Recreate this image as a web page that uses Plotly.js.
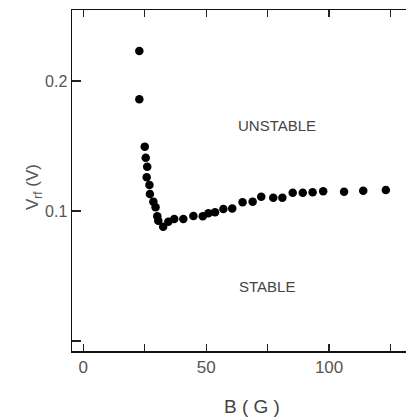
<!DOCTYPE html>
<html>
<head>
<meta charset="utf-8">
<script src="https://cdn.plot.ly/plotly-3.0.1.min.js"></script>
<style>html,body{margin:0;padding:0;background:#fff;}#chart{width:406px;height:418px;}</style>
</head>
<body>
<div id="chart"></div>
<script>
const B = [22.8, 22.8, 25.0, 25.4, 26.0, 25.8, 26.9, 27.1, 28.5, 29.4, 30.1, 30.5, 32.5, 34.6, 37.0, 40.7, 44.8, 48.6, 50.9, 53.6, 57.0, 60.6, 64.8, 68.9, 72.4, 77.3, 81.0, 85.2, 89.3, 93.3, 97.6, 106.1, 113.9, 123.1];
const Vrf = [0.223, 0.186, 0.1495, 0.141, 0.134, 0.126, 0.120, 0.113, 0.1072, 0.1028, 0.096, 0.0925, 0.0879, 0.0918, 0.0938, 0.0938, 0.0961, 0.096, 0.0982, 0.099, 0.1015, 0.102, 0.1067, 0.1072, 0.111, 0.1102, 0.1102, 0.114, 0.114, 0.1144, 0.1152, 0.1148, 0.1156, 0.1162];
const xTickVals = [0, 25, 50, 75, 100, 125];
const xTickText = ['0', '', '50', '', '100', ''];
const yTickVals = [0, 0.1, 0.2];
const yTickText = ['', '0.1', '0.2'];

const fam = 'Liberation Sans, Arial, sans-serif';
const data = [{
  x: B, y: Vrf, type: 'scatter', mode: 'markers',
  marker: {color: '#000', size: 8.5}
}];
const layout = {
  width: 406, height: 418,
  margin: {l: 72, r: 0, t: 10, b: 67},
  paper_bgcolor: '#fff', plot_bgcolor: '#fff',
  showlegend: false,
  xaxis: {
    range: [-4.6, 131.3], showgrid: false, zeroline: false,
    showline: true, linecolor: '#111', linewidth: 1.5, mirror: 'ticks',
    ticks: 'inside', ticklen: 7, tickwidth: 1.2, tickcolor: '#222',
    tickvals: xTickVals, ticktext: xTickText,
    tickfont: {family: fam, size: 17, color: '#555'}
  },
  yaxis: {
    range: [-0.0077, 0.2546], showgrid: false, zeroline: false,
    showline: true, linecolor: '#111', linewidth: 1.5,
    ticks: 'inside', ticklen: 9, tickwidth: 1.2, tickcolor: '#222',
    tickvals: yTickVals, ticktext: yTickText,
    tickfont: {family: fam, size: 16, color: '#555'}
  },
  annotations: [
    {text: 'UNSTABLE', x: 78.7, y: 0.1654, xref: 'x', yref: 'y', showarrow: false,
     font: {family: fam, size: 15, color: '#444'}},
    {text: 'STABLE', x: 74.6, y: 0.0423, xref: 'x', yref: 'y', showarrow: false,
     font: {family: fam, size: 15, color: '#444'}},
    {text: 'B ( G )', x: 0.539, y: (351 - 406) / 341, xref: 'paper', yref: 'paper',
     xanchor: 'center', yanchor: 'middle', showarrow: false,
     font: {family: fam, size: 19, color: '#444'}},
    {text: 'V<sub>rf</sub> (V)', x: (34 - 72) / 334, y: 0.481, xref: 'paper', yref: 'paper',
     xanchor: 'center', yanchor: 'middle', showarrow: false, textangle: -90,
     font: {family: fam, size: 17, color: '#555'}}
  ]
};
Plotly.newPlot('chart', data, layout, {displayModeBar: false, staticPlot: true});
</script>
</body>
</html>
